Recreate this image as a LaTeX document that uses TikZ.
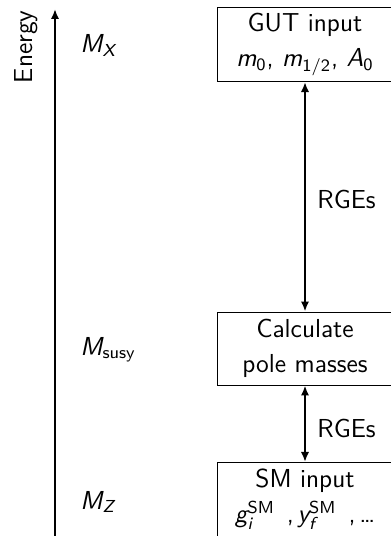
\documentclass[tikz,border=0pt]{standalone}
\usepackage{amsmath}
\usetikzlibrary{arrows.meta}
\newcommand\mv[1]{\textsf{\slshape #1}}
\newcommand\up[1]{\textsf{#1}}
\newcommand\smsep{\hspace{5.5pt},\hspace{1.7pt}}
\tikzset{
  stepbox/.style={draw,line width=0.45pt,inner sep=0pt,align=center,
    minimum width=81.2pt,minimum height=34.2pt},
  lbl/.style={inner sep=0pt,anchor=base west},
  dbl/.style={{Latex[length=4.6pt,width=3.8pt]}-{Latex[length=4.6pt,width=3.8pt]},line width=0.9pt},
  axis/.style={-{Latex[length=4.6pt,width=3.8pt]},line width=0.9pt}}
\begin{document}
\begin{tikzpicture}[x=0.4615pt,y=-0.4615pt,
  every node/.style={font=\fontsize{12}{16.15}\selectfont\sffamily}]
\useasboundingbox (0,0) rectangle (391,536);
% boxes
\node[stepbox] (gut)  at (305,44.5)  {GUT input\\ $\mv{m}_{\up{0}}$, $\mv{m}_{\up{1/2}}$, $\mv{A}_{\up{0}}$};
\node[stepbox,minimum height=33.7pt] (calc) at (305,348.5) {Calculate\\ pole masses};
\node[stepbox] (sm)   at (305,499.5) {SM input\\ $\mv{g}_{\mv{i}}^{\up{SM}}$\smsep$\mv{y}_{\mv{f}}^{\up{SM}}$\smsep\ldots};
% connectors
\draw[dbl] (gut.south) -- (calc.north);
\draw[dbl] (calc.south) -- (sm.north);
\node[lbl] (rge1) at (317,208) {RGEs};
\node[lbl] (rge2) at (317,437) {RGEs};
% energy axis
\coordinate (axbot) at (55,540);
\coordinate (axtop) at (55,9);
\draw[axis] (axbot) -- (axtop);
\node[inner sep=0pt,rotate=90,anchor=base east] (energy) at (32,10) {Energy};
\node[lbl] (mx) at (80,53) {$\mv{M}_{\mv{X}}$};
\node[lbl] (msusy) at (80,355) {$\mv{M}_{\up{susy}}$};
\node[lbl] (mz) at (80,509) {$\mv{M}_{\mv{Z}}$};
\end{tikzpicture}
\end{document}
